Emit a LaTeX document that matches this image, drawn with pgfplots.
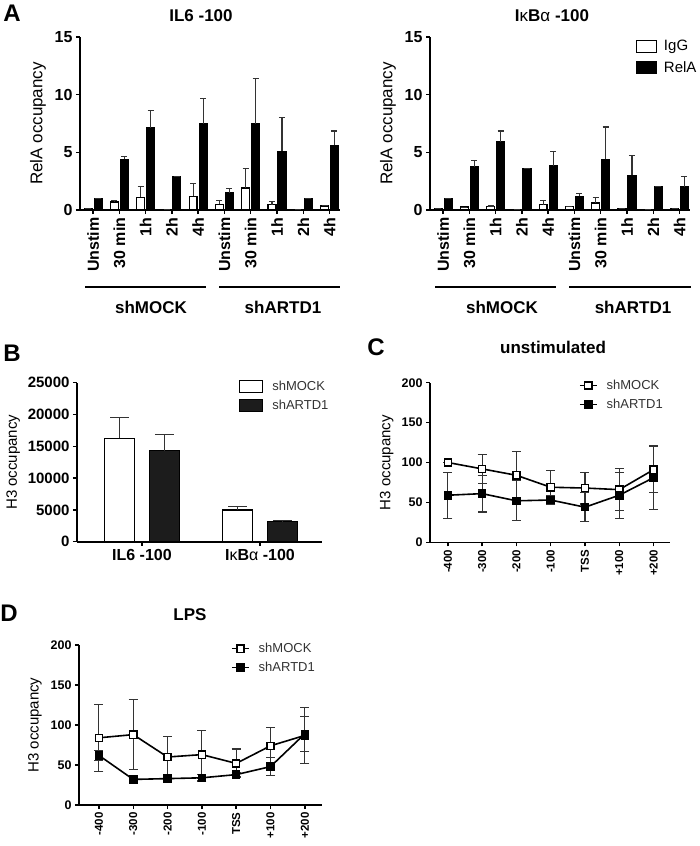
\documentclass[border=0pt]{standalone}
\usepackage{fontspec}
\setmainfont{Liberation Sans}
\usepackage{pgfplots}
\pgfplotsset{compat=1.18}
\definecolor{errc}{HTML}{333333}
\definecolor{darkbar}{HTML}{1C1C1C}
\newcommand{\fs}[1]{\fontsize{#1}{#1}\selectfont}
\pgfplotsset{
  prism/.style={
    scale only axis,
    axis x line*=bottom, axis y line*=left,
    axis line style={-, line width=1.6pt},
    tick style={line width=1.4pt, black},
    tick align=outside,
    major tick length=4pt,
    clip=false,
    /pgf/number format/assume math mode=true,
    /pgf/number format/1000 sep={},
    scaled y ticks=false,
    ymin=0,
    ylabel style={anchor=center},
    legend cell align=left,
  },
  errup/.style={error bars/y dir=plus, error bars/y explicit,
     error bars/error bar style={line width=1.1pt, errc},
     error bars/error mark options={rotate=90, line width=1.1pt, errc, mark size=#1}},
  errboth/.style={error bars/y dir=both, error bars/y explicit,
     error bars/error bar style={line width=1.1pt, errc},
     error bars/error mark options={rotate=90, line width=1.1pt, errc, mark size=#1}},
  boxleg/.style={legend image code/.code={\draw[##1, line width=1.4pt] (0pt,-6pt) rectangle (#1,6pt);}},
}
\begin{document}
\begin{tikzpicture}
\useasboundingbox (0pt,0pt) rectangle (700pt,-846pt);

% ---------------- Panel A left ----------------
\begin{axis}[prism, at={(80pt,-210pt)}, anchor=south west, width=260pt, height=173pt,
  xmin=-0.5, xmax=9.4, ymax=15, ytick={0,5,10,15},
  xtick={0,...,9}, xticklabels={Unstim,30 min,1h,2h,4h,Unstim,30 min,1h,2h,4h},
  xticklabel style={rotate=90, anchor=east, font=\bfseries\fs{16}},
  yticklabel style={font=\bfseries\fs{16}},
  ylabel={RelA occupancy}, ylabel style={at={(axis description cs:-0.162,0.5)}, font=\fs{17}},
]
\addplot[ybar, bar width=0.3, bar shift=0, fill=white, draw=black, line width=1.3pt, errup=3pt]
table[x expr=\thisrow{x}-0.19,y=y,y error=e]{
x y e
0 0.15 0
1 0.7 0.1
2 1.1 0.9
3 0.05 0
4 1.2 1.1
5 0.5 0.3
6 1.9 1.7
7 0.45 0.3
8 0.05 0
9 0.35 0.05
};
\addplot[ybar, bar width=0.3, bar shift=0, fill=black, draw=black, line width=1.3pt, errup=3pt]
table[x expr=\thisrow{x}+0.19,y=y,y error=e]{
x y e
0 1.0 0
1 4.4 0.25
2 7.1 1.5
3 2.9 0
4 7.5 2.2
5 1.5 0.35
6 7.45 3.95
7 5.1 2.9
8 1.0 0
9 5.6 1.25
};
\end{axis}

% ---------------- Panel A right ----------------
\begin{axis}[prism, at={(430pt,-210pt)}, anchor=south west, width=260pt, height=173pt,
  xmin=-0.5, xmax=9.4, ymax=15, ytick={0,5,10,15},
  xtick={0,...,9}, xticklabels={Unstim,30 min,1h,2h,4h,Unstim,30 min,1h,2h,4h},
  xticklabel style={rotate=90, anchor=east, font=\bfseries\fs{16}},
  yticklabel style={font=\bfseries\fs{16}},
  ylabel={RelA occupancy}, ylabel style={at={(axis description cs:-0.162,0.5)}, font=\fs{17}},
  legend style={draw=none, fill=none, at={(0.79,0.994)}, anchor=north west, font=\fs{15},
    row sep=5pt, inner sep=0pt, /tikz/every odd column/.append style={column sep=5pt}},
]
\addplot[ybar, bar width=0.3, bar shift=0, fill=white, draw=black, line width=1.3pt, boxleg=20pt, errup=3pt]
table[x expr=\thisrow{x}-0.19,y=y,y error=e]{
x y e
0 0.1 0
1 0.25 0
2 0.3 0.05
3 0.05 0
4 0.45 0.4
5 0.3 0
6 0.6 0.5
7 0.15 0
8 0.03 0
9 0.15 0
};
\addlegendentry{IgG}
\addplot[ybar, bar width=0.3, bar shift=0, fill=black, draw=black, line width=1.3pt, boxleg=20pt, errup=3pt]
table[x expr=\thisrow{x}+0.19,y=y,y error=e]{
x y e
0 1.0 0
1 3.75 0.55
2 5.9 0.95
3 3.6 0
4 3.85 1.25
5 1.2 0.2
6 4.4 2.8
7 3.0 1.7
8 2.0 0
9 2.0 0.9
};
\addlegendentry{RelA}
\end{axis}

% ---------------- Panel B ----------------
\begin{axis}[prism, at={(77pt,-541.7pt)}, anchor=south west, width=245pt, height=159pt,
  xmin=-0.55, xmax=1.525, ymax=25000, ytick={0,5000,10000,15000,20000,25000},
  xtick={0,1}, xticklabels={IL6 -100,{I{\mdseries κ}B{\mdseries α} -100}},
  xticklabel style={font=\bfseries\fs{16}},
  yticklabel style={font=\bfseries\fs{15}},
  ylabel={H3 occupancy}, ylabel style={at={(axis description cs:-0.26,0.5)}, font=\fs{15}},
  legend style={draw=none, fill=none, at={(0.66,1.023)}, anchor=north west, font=\fs{13}, text=black!80,
    row sep=4pt, inner sep=0pt, /tikz/every odd column/.append style={column sep=7pt}},
]
\addplot[ybar, bar width=0.254, bar shift=0, fill=white, draw=black, line width=1.4pt, boxleg=23pt, errup=9.5pt]
table[x expr=\thisrow{x}-0.19,y=y,y error=e]{
x y e
0 16250 3350
1 5000 500
};
\addlegendentry{shMOCK}
\addplot[ybar, bar width=0.254, bar shift=0, fill=darkbar, draw=black, line width=1.4pt, boxleg=23pt, errup=9.5pt]
table[x expr=\thisrow{x}+0.19,y=y,y error=e]{
x y e
0 14300 2600
1 3150 150
};
\addlegendentry{shARTD1}
\end{axis}

% ---------------- Panel C ----------------
\begin{axis}[prism, at={(430pt,-542.3pt)}, anchor=south west, width=240pt, height=159.6pt,
  xmin=-0.52, xmax=6.48, ymax=200, ytick={0,50,100,150,200},
  xtick={0,...,6}, xticklabels={-400,-300,-200,-100,TSS,+100,+200},
  xticklabel style={rotate=90, anchor=east, font=\bfseries\fs{11.5}},
  yticklabel style={font=\bfseries\fs{12.5}},
  ylabel={H3 occupancy}, ylabel style={at={(axis description cs:-0.18,0.5)}, font=\fs{15}},
  legend style={draw=none, fill=none, at={(0.62,1.03)}, anchor=north west, font=\fs{13}, text=black!80,
    row sep=4pt, inner sep=0pt, /tikz/every odd column/.append style={column sep=7pt}},
]
\addplot[black, line width=1.6pt, mark=square*, mark size=3.6pt, mark options={fill=white, line width=1.4pt}, errboth=4.5pt]
table[x=x,y=y,y error=e]{
x y e
0 100 0
1 92 18
2 84 30
3 69 21
4 68 20
5 66 26
6 91 29
};
\addlegendentry{shMOCK}
\addplot[black, line width=1.6pt, mark=square*, mark size=3.6pt, mark options={fill=black, line width=1.4pt}, errboth=4.5pt]
table[x=x,y=y,y error=e]{
x y e
0 59 29
1 61 23
2 52 25
3 53 5
4 44 18
5 59 29
6 81 40
};
\addlegendentry{shARTD1}
\end{axis}

% ---------------- Panel D ----------------
\begin{axis}[prism, at={(79pt,-805pt)}, anchor=south west, width=243pt, height=160pt,
  xmin=-0.58, xmax=6.5, ymax=200, ytick={0,50,100,150,200},
  xtick={0,...,6}, xticklabels={-400,-300,-200,-100,TSS,+100,+200},
  xticklabel style={rotate=90, anchor=east, font=\bfseries\fs{11.5}},
  yticklabel style={font=\bfseries\fs{12.5}},
  ylabel={H3 occupancy}, ylabel style={at={(axis description cs:-0.181,0.5)}, font=\fs{15}},
  legend style={draw=none, fill=none, at={(0.625,1.025)}, anchor=north west, font=\fs{13}, text=black!80,
    row sep=4pt, inner sep=0pt, /tikz/every odd column/.append style={column sep=7pt}},
]
\addplot[black, line width=1.6pt, mark=square*, mark size=3.6pt, mark options={fill=white, line width=1.4pt}, errboth=4.5pt]
table[x=x,y=y,y error=e]{
x y e
0 84 42
1 88 44
2 60 26
3 63 30
4 52 18
5 74 23
6 87 35
};
\addlegendentry{shMOCK}
\addplot[black, line width=1.6pt, mark=square*, mark size=3.6pt, mark options={fill=black, line width=1.4pt}, errboth=4.5pt]
table[x=x,y=y,y error=e]{
x y e
0 62 6
1 32 4
2 33 3
3 34 4
4 38 3
5 48 11
6 89 22
};
\addlegendentry{shARTD1}
\end{axis}

% ---------------- Annotations ----------------
\node[font=\bfseries\fs{24}] at (12pt,-13pt) {A};
\node[font=\bfseries\fs{24}] at (12pt,-353pt) {B};
\node[font=\bfseries\fs{24}] at (376pt,-347pt) {C};
\node[font=\bfseries\fs{24}] at (9pt,-613pt) {D};
\node[font=\bfseries\fs{17}] at (201pt,-16pt) {IL6 -100};
\node[font=\bfseries\fs{17}] at (552pt,-16pt) {I{\mdseries κ}B{\mdseries α} -100};
\node[font=\bfseries\fs{17}] at (553pt,-347pt) {unstimulated};
\node[font=\bfseries\fs{17}] at (190pt,-615pt) {LPS};

\draw[line width=1.6pt] (85pt,-286.7pt) -- (206pt,-286.7pt);
\draw[line width=1.6pt] (219pt,-286.7pt) -- (340pt,-286.7pt);
\draw[line width=1.6pt] (435pt,-286.7pt) -- (556pt,-286.7pt);
\draw[line width=1.6pt] (569pt,-286.7pt) -- (691pt,-286.7pt);
\node[font=\bfseries\fs{17}] at (151pt,-307pt) {shMOCK};
\node[font=\bfseries\fs{17}] at (283pt,-307pt) {shARTD1};
\node[font=\bfseries\fs{17}] at (502pt,-307pt) {shMOCK};
\node[font=\bfseries\fs{17}] at (633pt,-307pt) {shARTD1};
\end{tikzpicture}
\end{document}
